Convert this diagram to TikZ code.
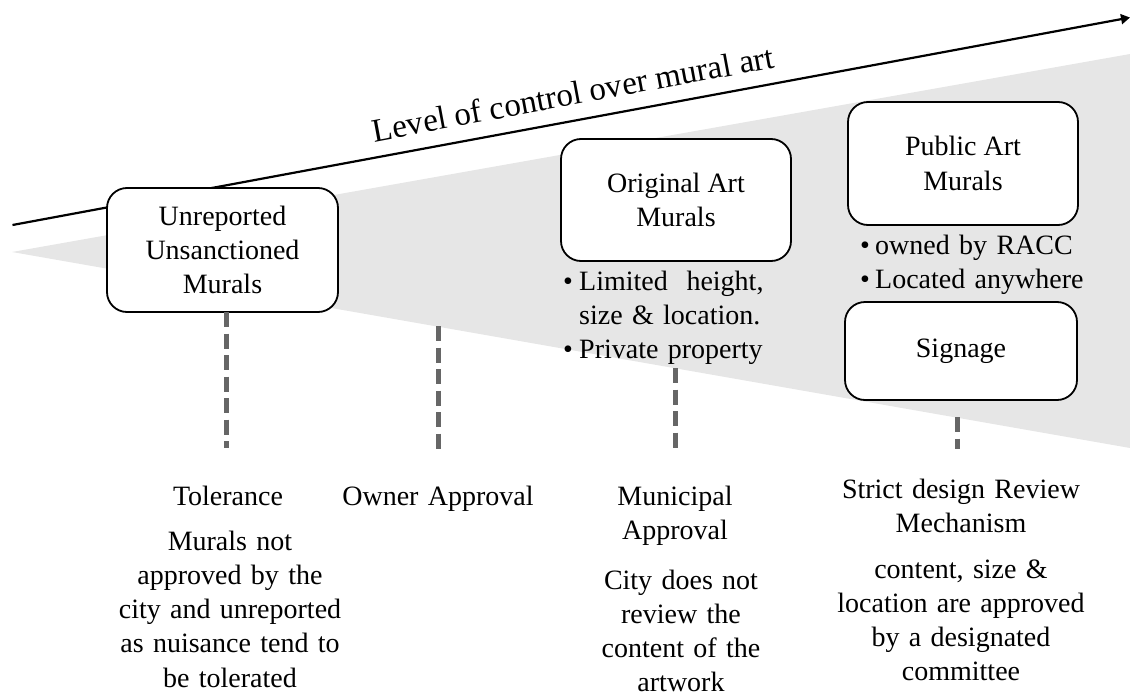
\documentclass[tikz,border=0pt]{standalone}
\usepackage{fontspec}
\setmainfont{Liberation Serif}
\usetikzlibrary{arrows.meta}
\definecolor{wedgegray}{HTML}{E6E6E6}
\definecolor{dashgray}{HTML}{666666}
\newcommand\muralfs{\fontsize{28}{34.3}\selectfont}
\newcommand\axisfs{\fontsize{33}{38}\selectfont}
\begin{document}
\begin{tikzpicture}[x=1pt,y=-1pt,
  box/.style={draw=black, line width=1.8pt, fill=white, rounded corners=20pt,
    inner sep=0pt, align=center, font=\muralfs},
  dline/.style={draw=dashgray, line width=5pt, dash pattern=on 15pt off 6.5pt},
  lbl/.style={anchor=base, align=center, text width=300pt, inner sep=0pt, font=\muralfs},
  bul/.style={anchor=base west, align=left, text width=260pt, inner sep=0pt, font=\muralfs},
  axisline/.style={draw=black, line width=2.2pt, -{Triangle[length=9pt,width=10pt]}}
]
\useasboundingbox (0,0) rectangle (1130,696);
% gray wedge
\fill[wedgegray] (12,252) -- (1130,54) -- (1130,448) -- cycle;
% axis
\coordinate (axS) at (12.5,225);
\coordinate (axE) at (1130,17.5);
\draw[axisline] (axS) -- (axE);
\node[rotate=10.52, anchor=base, inner sep=0pt, font=\axisfs] (axlbl) at (575,104.8) {Level of control over mural art};
% boxes
\node[box, minimum width=231pt, minimum height=124pt] (unrep) at (222.5,250) {Unreported\\Unsanctioned\\Murals};
\node[box, minimum width=230pt, minimum height=122pt] (orig) at (676,200) {Original Art\\Murals};
\node[box, minimum width=230pt, minimum height=123pt] (pub) at (963,163.5) {Public Art\\Murals};
\node[box, minimum width=232pt, minimum height=98pt] (sign) at (961,351) {Signage};
% bullets
\node[bul] (origB) at (563,290) {\makebox[16pt][l]{•}Limited\ \ height,\\\hspace*{16pt}size \& location.\\\makebox[16pt][l]{•}Private property};
\node[bul] (pubB) at (860,254) {\makebox[15pt][l]{•}owned by RACC\\\makebox[15pt][l]{•}Located anywhere};
% dashed connectors
\coordinate (tolT) at (226,312);
\coordinate (tolB) at (226,448);
\coordinate (ownT) at (438,326);
\coordinate (ownB) at (438,449);
\coordinate (munT) at (675,368);
\coordinate (munB) at (675,449);
\coordinate (strT) at (957,417);
\coordinate (strB) at (957,449);
\draw[dline] (tolT) -- (tolB);
\draw[dline] (ownT) -- (ownB);
\draw[dline] (munT) -- (munB);
\draw[dline] (strT) -- (strB);
% labels
\node[lbl] (tolH) at (228,505) {Tolerance};
\node[lbl] (tolD) at (230,550) {Murals not\\approved by the\\city and unreported\\as nuisance tend to\\be tolerated};
\node[lbl] (ownH) at (438,505) {Owner Approval};
\node[lbl] (munH) at (675,505) {Municipal\\Approval};
\node[lbl] (munD) at (681,589) {City does not\\review the\\content of the\\artwork};
\node[lbl] (strH) at (961,498) {Strict design Review\\Mechanism};
\node[lbl] (strD) at (961,578) {content, size \&\\location are approved\\by a designated\\committee};
\end{tikzpicture}
\end{document}
